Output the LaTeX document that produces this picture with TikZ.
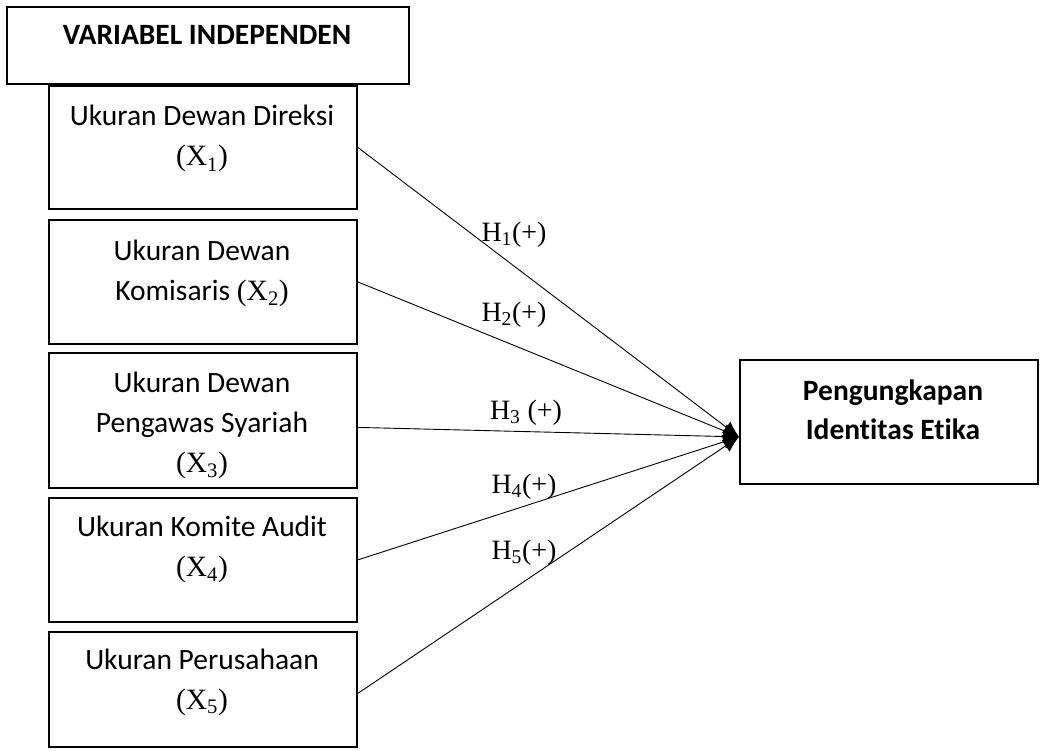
\documentclass[tikz,border=0pt]{standalone}
\usepackage{fontspec}
\setmainfont{Carlito}[Ligatures=NoCommon]
\newfontfamily\mserif{Liberation Serif}
\usetikzlibrary{arrows.meta}
\begin{document}
\begin{tikzpicture}[x=1pt,y=-1pt,
  box/.style={draw, line width=1.8pt, rectangle, anchor=north west, inner sep=0pt},
  lbl/.style={font=\fontsize{29.5}{40}\selectfont, align=center, inner sep=0pt, anchor=base},
  hyp/.style={font=\fontsize{28}{32}\mserif, inner sep=0pt, anchor=base},
  conn/.style={line width=0.9pt, -{Latex[length=16pt,width=14pt]}}
]
\useasboundingbox (0,0) rectangle (1040,751);
% boxes
\node[box, minimum width=402pt, minimum height=77pt] (hdr) at (6,6) {};
\node[box, minimum width=308pt, minimum height=123pt] (b1) at (48,85) {};
\node[box, minimum width=308pt, minimum height=124pt] (b2) at (48,219) {};
\node[box, minimum width=308pt, minimum height=135pt] (b3) at (48,352) {};
\node[box, minimum width=308pt, minimum height=124pt] (b4) at (48,497) {};
\node[box, minimum width=308pt, minimum height=115pt] (b5) at (48,631) {};
\node[box, minimum width=298pt, minimum height=124pt] (t) at (739,359) {};
% texts (anchored at the baseline of the last line)
\node[lbl, font=\fontsize{29.5}{40}\selectfont\bfseries] (hdrt) at (207,45) {VARIABEL INDEPENDEN};
\node[lbl] (b1t) at (202,166) {Ukuran Dewan Direksi\\{\mserif(X\textsubscript{1})}};
\node[lbl] (b2t) at (202,300) {Ukuran Dewan\\Komisaris {\mserif(X\textsubscript{2})}};
\node[lbl] (b3t) at (202,472) {Ukuran Dewan\\Pengawas Syariah\\{\mserif(X\textsubscript{3})}};
\node[lbl] (b4t) at (202,576) {Ukuran Komite Audit\\{\mserif(X\textsubscript{4})}};
\node[lbl] (b5t) at (202,709) {Ukuran Perusahaan\\{\mserif(X\textsubscript{5})}};
\node[lbl, font=\fontsize{29.5}{39}\selectfont\bfseries] (tt) at (893,439) {Pengungkapan\\Identitas Etika};
% connectors
\coordinate (tip) at ([yshift=-15pt]t.west);
\draw[conn] (b1.east) -- (tip);
\draw[conn] (b2.east) -- (tip);
\draw[conn] ([yshift=-7pt]b3.east) -- (tip);
\draw[conn] (b4.east) -- (tip);
\draw[conn] ([yshift=-4pt]b5.east) -- (tip);
% hypothesis labels
\node[hyp] (h1) at (514,241) {H\textsubscript{1}(+)};
\node[hyp] (h2) at (514,321) {H\textsubscript{2}(+)};
\node[hyp] (h3) at (526,419) {H\textsubscript{3} (+)};
\node[hyp] (h4) at (524,493) {H\textsubscript{4}(+)};
\node[hyp] (h5) at (524,559) {H\textsubscript{5}(+)};
\end{tikzpicture}
\end{document}
